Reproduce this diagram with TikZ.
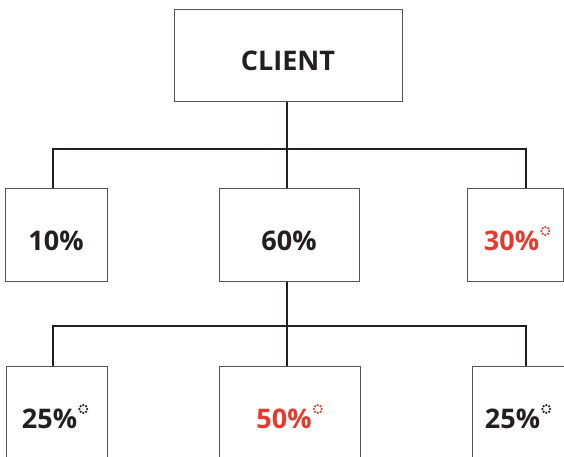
\documentclass[tikz,border=0pt]{standalone}
\usepackage{fontspec}
\setmainfont{Open Sans}
\usetikzlibrary{calc}
\definecolor{ink}{HTML}{231F20}
\definecolor{accent}{HTML}{E63A2E}
\definecolor{frame}{HTML}{555555}
\begin{document}
\begin{tikzpicture}[x=1pt,y=-1pt,
  box/.style={draw=frame,line width=1pt,fill=white,inner sep=0pt,minimum height=93pt},
  lbl/.style={anchor=base,inner sep=0pt,font=\fontsize{27}{30}\selectfont\bfseries,text=ink},
  link/.style={draw=ink,line width=2.8pt},
  pics/dotstar/.style={code={\foreach \a in {0,45,...,315} \fill[#1] (\a:3.9pt) circle (1.25pt);}}
]
\path[use as bounding box,clip] (0,0) rectangle (564,457);
\fill[white] (0,0) rectangle (564,457);
% top
\node[box,minimum width=228pt,minimum height=92pt] (client) at (288,56) {};
\node[lbl] (tclient) at (288,71) {CLIENT};
% row 1
\node[box,minimum width=102pt] (b10) at (56,234.5) {};
\node[lbl] (t10) at (56,250) {10\%};
\node[box,minimum width=140pt] (b60) at (289,234.5) {};
\node[lbl] (t60) at (289,250) {60\%};
\node[box,minimum width=96pt] (b30) at (515,234.5) {};
\node[lbl,text=accent] (t30) at (517,250) {30\%\kern11pt};
\pic at ($(t30.base east)+(-5,-19)$) {dotstar=accent};
% row 2
\node[box,minimum width=101pt] (b25a) at (56.5,412.5) {};
\node[lbl] (t25a) at (55,428) {25\%\kern11pt};
\pic at ($(t25a.base east)+(-5,-19)$) {dotstar=ink};
\node[box,minimum width=141pt] (b50) at (289.5,412.5) {};
\node[lbl,text=accent] (t50) at (289.5,428) {50\%\kern11pt};
\pic at ($(t50.base east)+(-5,-19)$) {dotstar=accent};
\node[box,minimum width=96pt] (b25b) at (520,412.5) {};
\node[lbl] (t25b) at (518,428) {25\%\kern11pt};
\pic at ($(t25b.base east)+(-5,-19)$) {dotstar=ink};
% connectors
\coordinate (busA) at (287,149);
\coordinate (busAL) at (53,149);
\coordinate (busAR) at (526,149);
\coordinate (busB) at (287,326);
\coordinate (busBL) at (53,326);
\coordinate (busBR) at (526,326);
\draw[link] (client.south -| busA) -- (b60.north -| busA);
\draw[link] (b10.north -| busAL) |- (busAR) -- (b30.north -| busAR);
\draw[link] (b60.south -| busB) -- (b50.north -| busB);
\draw[link] (b25a.north -| busBL) |- (busBR) -- (b25b.north -| busBR);
\end{tikzpicture}
\end{document}
